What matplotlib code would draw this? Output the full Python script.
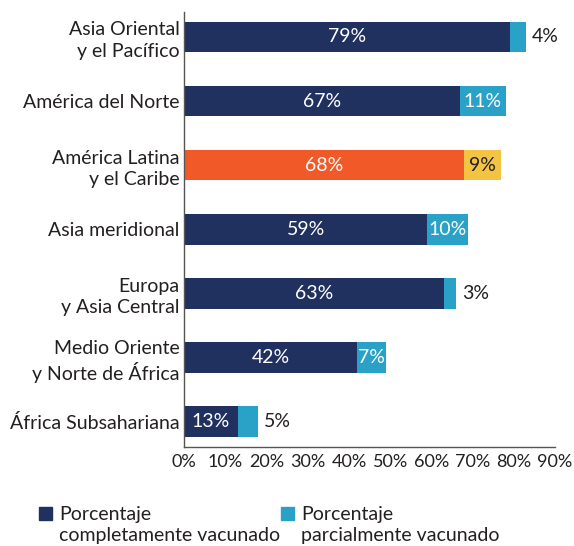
import matplotlib
matplotlib.use("Agg")
import matplotlib.pyplot as plt
from matplotlib.patches import Rectangle

categories = ["Asia Oriental\ny el Pacífico", "América del Norte", "América Latina\ny el Caribe",
              "Asia meridional", "Europa\ny Asia Central", "Medio Oriente\ny Norte de África",
              "África Subsahariana"]
full = [79, 67, 68, 59, 63, 42, 13]
partial = [4, 11, 9, 10, 3, 7, 5]
highlight = [False, False, True, False, False, False, False]
xticks = [0, 10, 20, 30, 40, 50, 60, 70, 80, 90]
legend_labels = ["Porcentaje\ncompletamente vacunado", "Porcentaje\nparcialmente vacunado"]

NAVY = "#20305f"
BLUE = "#2aa2c8"
ORANGE = "#f15a28"
YELLOW = "#f3c443"
TXT = "#231f20"

plt.rcParams['font.family'] = ['Lato', 'DejaVu Sans']

fig = plt.figure(figsize=(5.74, 5.46), dpi=100)
ax = fig.add_axes([184/574, 1-447/546, (555-184)/574, (447-12)/546])

ys = list(range(len(categories)))
h = 0.48
for i, (c, f, p, hl) in enumerate(zip(categories, full, partial, highlight)):
    c1 = ORANGE if hl else NAVY
    c2 = YELLOW if hl else BLUE
    ax.barh(i, f, height=h, color=c1, edgecolor='none')
    ax.barh(i, p, left=f, height=h, color=c2, edgecolor='none')
    ax.text(f/2, i, f"{f}%", ha='center', va='center', color='white', fontsize=14)
    if p >= 6:
        ax.text(f + p/2, i, f"{p}%", ha='center', va='center',
                color=TXT if hl else 'white', fontsize=14)
    else:
        ax.text(f + p + 1.4, i, f"{p}%", ha='left', va='center', color=TXT, fontsize=14)

ax.set_xlim(0, 90)
ax.set_ylim(6.4, -0.39)
ax.set_yticks(ys)
ax.set_yticklabels(categories, fontsize=14, color=TXT, linespacing=1.3)
ax.set_xticks(xticks)
ax.set_xticklabels([f"{t}%" for t in xticks], fontsize=13, color=TXT)
ax.tick_params(axis='both', length=0, pad=3)
ax.tick_params(axis='x', pad=5)
for s in ['top', 'right']:
    ax.spines[s].set_visible(False)
for s in ['left', 'bottom']:
    ax.spines[s].set_color('#555555')
    ax.spines[s].set_linewidth(1.0)

# legend
for (x0, col, lab) in [(39, NAVY, legend_labels[0]), (281, BLUE, legend_labels[1])]:
    fig.patches.append(Rectangle((x0/574, 1-520/546), 13/574, 13/546,
                                 transform=fig.transFigure, color=col))
    fig.text((x0+20)/574, 1-506/546, lab, ha='left', va='top', fontsize=14,
             color=TXT, linespacing=1.25)

fig.savefig("out.png", dpi=100)
